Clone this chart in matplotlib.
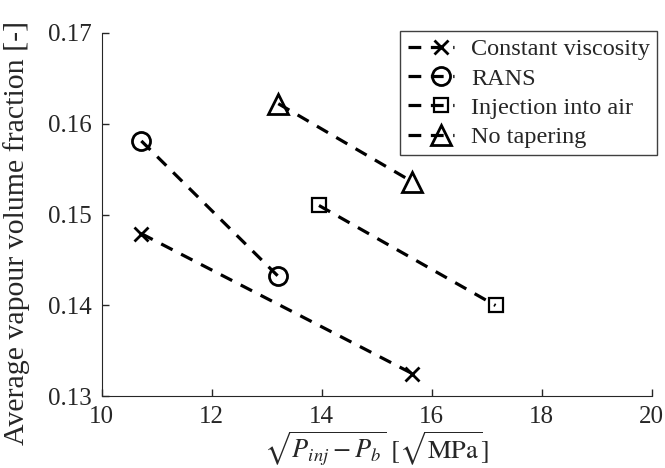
import matplotlib
matplotlib.use("Agg")
import numpy as np
import matplotlib.pyplot as plt
from matplotlib.legend_handler import HandlerLine2D

plt.rcParams['font.family'] = ['Liberation Serif', 'DejaVu Serif']
plt.rcParams['mathtext.fontset'] = 'stix'

# sqrt(P_inj - P_b) [sqrt(MPa)] and average vapour volume fraction [-]
const_x = [10.72, 15.65]
const_y = [0.1479, 0.1325]
rans_x = [10.72, 13.21]
rans_y = [0.1581, 0.1432]
air_x = [13.95, 17.16]
air_y = [0.1510, 0.1400]
notaper_x = [13.21, 15.65]
notaper_y = [0.1622, 0.1536]

series_labels = ['Constant viscosity', 'RANS', 'Injection into air', 'No tapering']
x_ticks = [10, 12, 14, 16, 18, 20]
y_ticks = [0.13, 0.14, 0.15, 0.16, 0.17]


class OffsetMarkerHandler(HandlerLine2D):
    """Legend entry with the marker sitting towards the right end of the line."""

    def __init__(self, frac=0.72, **kw):
        super().__init__(**kw)
        self.frac = frac

    def create_artists(self, legend, orig_handle, xdescent, ydescent,
                       width, height, fontsize, trans):
        artists = super().create_artists(legend, orig_handle, xdescent, ydescent,
                                         width, height, fontsize, trans)
        for a in artists:
            xd = np.asarray(a.get_xdata(), dtype=float)
            if len(xd) == 3:
                xd[1] = xd[0] + self.frac * (xd[2] - xd[0])
                a.set_xdata(xd)
            elif len(xd) == 1:
                a.set_xdata([-xdescent + self.frac * width])
        return artists


fig = plt.figure(figsize=(6.65, 4.68), dpi=100)
ax = fig.add_axes([0.153, 0.153, 0.827, 0.777])

common = dict(color='black', linestyle=(0, (4, 3)), linewidth=2.3,
              markeredgewidth=2.0, markerfacecolor='none', markeredgecolor='black')
ax.plot(const_x, const_y, marker='x', markersize=10, label=series_labels[0], **common)
ax.plot(rans_x, rans_y, marker='o', markersize=13, label=series_labels[1], **common)
ax.plot(air_x, air_y, marker='s', markersize=10, label=series_labels[2],
        **{**common, 'markeredgewidth': 1.6})
ax.plot(notaper_x, notaper_y, marker='^', markersize=14, label=series_labels[3], **common)

ax.set_xlim(10, 20)
ax.set_ylim(0.13, 0.17)
ax.set_xticks(x_ticks)
ax.set_yticks(y_ticks)
ax.set_xticklabels([str(t) for t in x_ticks])
ax.set_yticklabels([f'{t:.2f}' for t in y_ticks])
ax.tick_params(direction='in', labelsize=18, length=5, width=1, colors='#262626')
ax.tick_params(axis='x', pad=7)
ax.tick_params(axis='y', pad=7)

ax.spines['top'].set_visible(False)
ax.spines['right'].set_visible(False)
ax.spines['left'].set_color('#262626')
ax.spines['bottom'].set_color('#262626')

ax.set_xlabel(r'$\sqrt{P_{inj} - P_b}\ [\sqrt{\mathrm{MPa}}]$', fontsize=19, color='#262626')
ax.xaxis.set_label_coords(0.5, -0.196)
ax.xaxis.label.set_va('bottom')
ax.set_ylabel('Average vapour volume fraction [-]', fontsize=21.5, color='#262626')
ax.yaxis.set_label_coords(-0.13, 0.45)

leg = ax.legend(loc='upper right', bbox_to_anchor=(1.01, 1.005), fontsize=17.5,
                handlelength=1.9, handletextpad=0.7, borderpad=0.3, labelspacing=0.3,
                borderaxespad=0, fancybox=False, edgecolor='#404040', framealpha=1,
                handler_map={plt.Line2D: OffsetMarkerHandler(frac=0.72)})
leg.get_frame().set_linewidth(1.0)
for t in leg.get_texts():
    t.set_color('#262626')

fig.savefig('out.png', dpi=100)
